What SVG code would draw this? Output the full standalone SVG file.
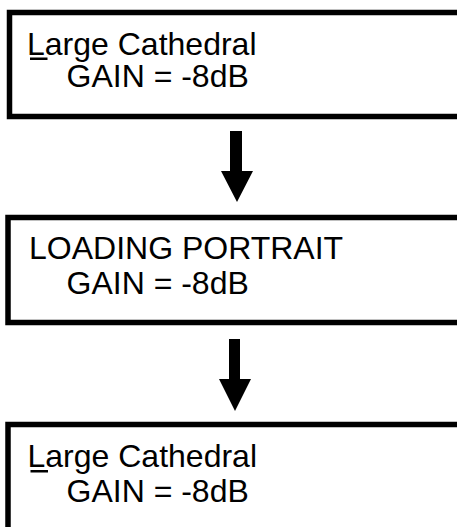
<svg xmlns="http://www.w3.org/2000/svg" width="457" height="527" viewBox="0 0 457 527">
<style>
.box{fill:#fff;stroke:#000;stroke-width:5.5}
.t{font-family:"Liberation Sans",Arial,sans-serif;font-size:32px;fill:#000}
.arrow{fill:#000}
</style>
<rect x="0" y="0" width="457" height="527" fill="#fff"/>
<g id="node1">
<rect class="box" x="9.5" y="12.5" width="500" height="104"/>
<text class="t" x="27" y="55">Large Cathedral</text>
<rect x="30" y="57.5" width="17.5" height="2.5" fill="#000"/>
<text class="t" x="66.5" y="87">GAIN = -8dB</text>
</g>
<g id="node2">
<rect class="box" x="8" y="217.5" width="500" height="105"/>
<text class="t" x="29" y="259">LOADING PORTRAIT</text>
<text class="t" x="66.5" y="294">GAIN = -8dB</text>
</g>
<g id="node3">
<rect class="box" x="8" y="424.5" width="500" height="200"/>
<text class="t" x="27.5" y="467">Large Cathedral</text>
<rect x="30.5" y="470" width="17.5" height="2.5" fill="#000"/>
<text class="t" x="66.5" y="502">GAIN = -8dB</text>
</g>
<g id="connectors">
<polygon class="arrow" points="230,131 242,131 242,171 253,171 237,202 221,171 230,171"/>
<polygon class="arrow" points="229,339 240,339 240,379 251,379 235,411 219,379 229,379"/>
</g>
</svg>
